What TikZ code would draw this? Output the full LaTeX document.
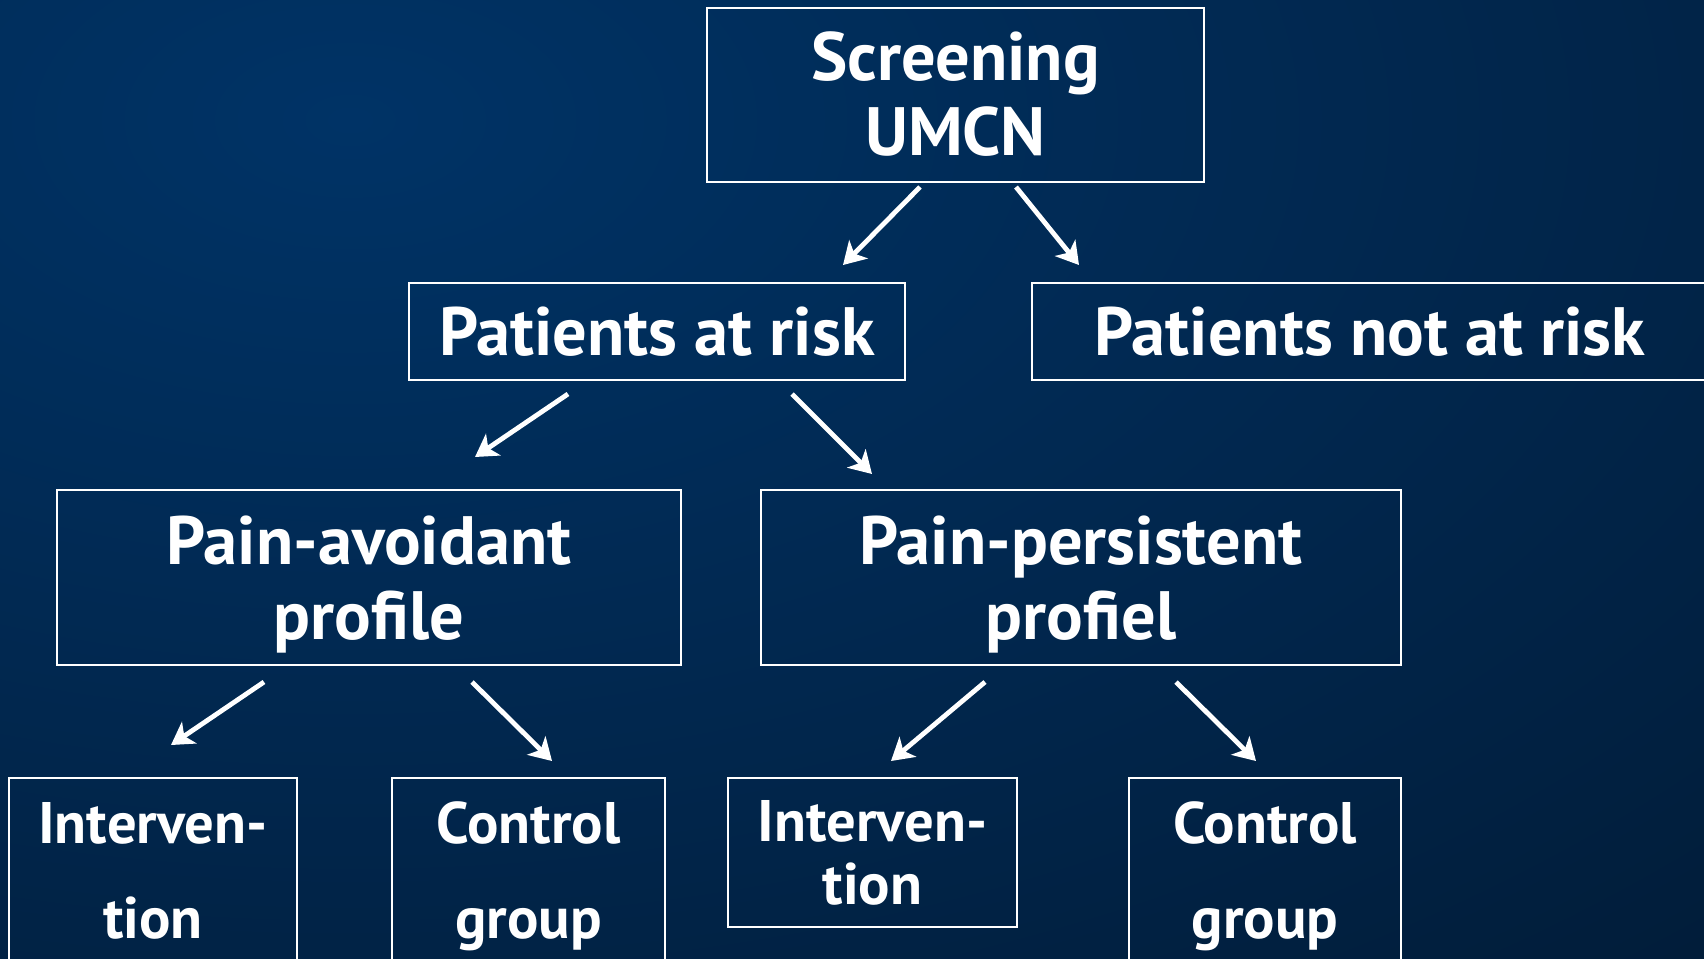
\documentclass[tikz,border=0pt]{standalone}
\usepackage{fontspec}
\setmainfont{PT Sans}
\usetikzlibrary{arrows.meta}
\definecolor{bgin}{RGB}{0,51,102}
\definecolor{bgout}{RGB}{2,20,40}
\tikzset{
  box/.style={draw=white, line width=1pt, text=white, align=center, inner sep=0pt},
  bigtext/.style={font=\bfseries\fontsize{34.2}{37.5}\selectfont},
  smalltext/.style={font=\bfseries\fontsize{29.3}{47.5}\selectfont},
  tighttext/.style={font=\bfseries\fontsize{29.3}{31.5}\selectfont},
  arr/.style={draw=white, line width=2.4pt, -{Stealth[length=11pt, width=13pt, inset=3pt]}}
}
\begin{document}
\begin{tikzpicture}[x=0.5pt, y=-0.5pt]
\useasboundingbox (0,0) rectangle (1704,959);
\fill[bgout] (0,0) rectangle (1704,959);
\begin{scope}
\clip (0,0) rectangle (1704,959);
\path[shading=radial, inner color=bgin, outer color=bgout] (350,120) ellipse [x radius=1400pt, y radius=800pt];
\end{scope}

\node[box, bigtext, minimum width=248.5pt, minimum height=87pt] (scr) at (955.5,94.5) {Screening\\UMCN};
\node[box, bigtext, minimum width=248pt, minimum height=48.5pt] (risk) at (657,331.5) {Patients at risk};
\node[box, bigtext, minimum width=338pt, minimum height=48.5pt] (notrisk) at (1370,331.5) {Patients not at risk};
\node[box, bigtext, text depth=0pt, minimum width=312pt, minimum height=87.5pt] (avoid) at (369,577.5) {Pain-avoidant\\profile};
\node[box, bigtext, text depth=0pt, minimum width=320pt, minimum height=87.5pt] (persist) at (1081,577.5) {Pain-persistent\\profiel};
\node[box, smalltext, text depth=0pt, minimum width=144pt, minimum height=92pt] (int1) at (153,870) {Interven-\\tion};
\node[box, smalltext, text depth=0pt, minimum width=136.5pt, minimum height=92pt] (ctl1) at (528.5,870) {Control\\group};
\node[box, tighttext, text depth=0pt, minimum width=144.5pt, minimum height=74.5pt] (int2) at (872.5,852.5) {Interven-\\tion};
\node[box, smalltext, text depth=0pt, minimum width=136pt, minimum height=92pt] (ctl2) at (1265,870) {Control\\group};

\coordinate (a1s) at (920,187);  \coordinate (a1e) at (843,265);
\coordinate (a2s) at (1016,187); \coordinate (a2e) at (1079,265);
\coordinate (a3s) at (568,394);  \coordinate (a3e) at (475,457);
\coordinate (a4s) at (792,394);  \coordinate (a4e) at (872,474);
\coordinate (a5s) at (264,682);  \coordinate (a5e) at (171,745);
\coordinate (a6s) at (472,682);  \coordinate (a6e) at (552,761);
\coordinate (a7s) at (985,682);  \coordinate (a7e) at (891,761);
\coordinate (a8s) at (1176,682); \coordinate (a8e) at (1256,761);

\draw[arr] (a1s) -- (a1e);
\draw[arr] (a2s) -- (a2e);
\draw[arr] (a3s) -- (a3e);
\draw[arr] (a4s) -- (a4e);
\draw[arr] (a5s) -- (a5e);
\draw[arr] (a6s) -- (a6e);
\draw[arr] (a7s) -- (a7e);
\draw[arr] (a8s) -- (a8e);
\end{tikzpicture}
\end{document}
